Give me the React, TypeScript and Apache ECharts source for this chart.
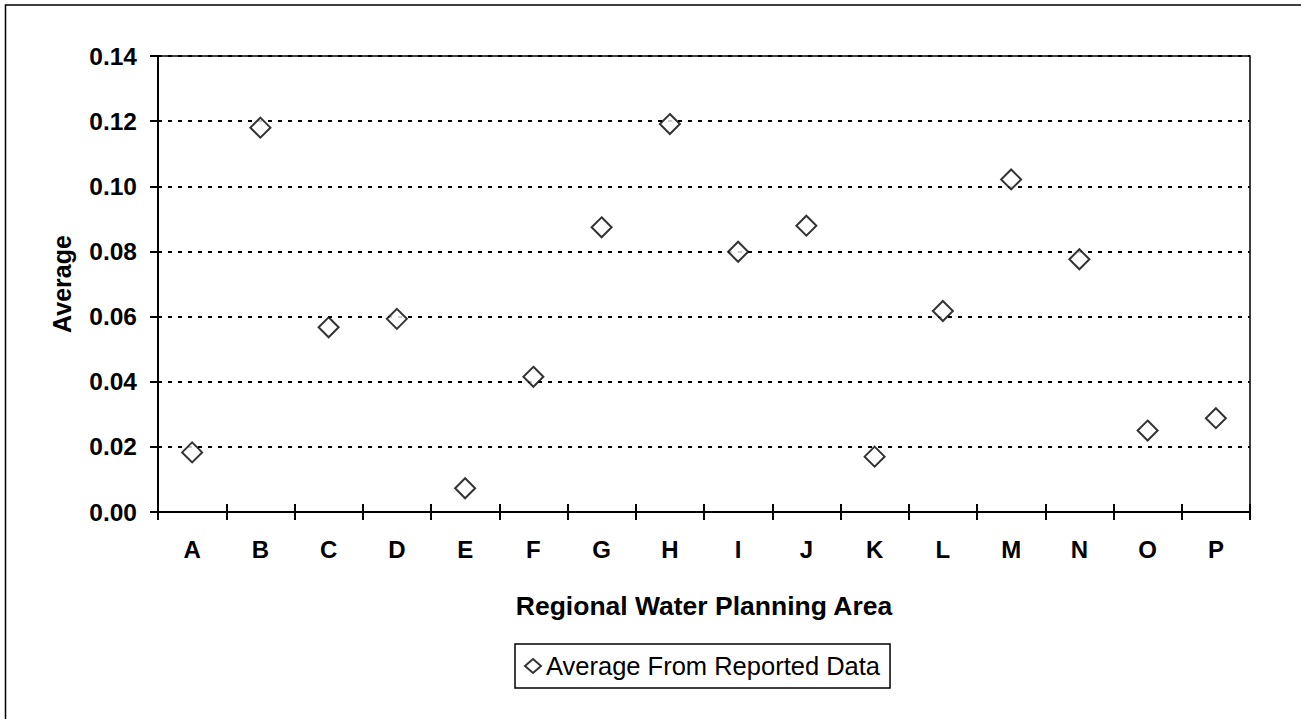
import React, { useEffect, useRef } from "react";
import * as echarts from "echarts";

const categories = ["A", "B", "C", "D", "E", "F", "G", "H", "I", "J", "K", "L", "M", "N", "O", "P"];
const averageValues = [0.0183, 0.118, 0.0567, 0.0593, 0.0073, 0.0415, 0.0874, 0.1191, 0.0799, 0.0879, 0.017, 0.0617, 0.1021, 0.0776, 0.025, 0.0288];
const seriesName = "Average From Reported Data";
const xTitle = "Regional Water Planning Area";
const yTitle = "Average";

const FONT = "'Liberation Sans', Arial, sans-serif";

export default function App() {
  const ref = useRef<HTMLDivElement>(null);
  useEffect(() => {
    document.body.style.margin = "0";
    const chart = echarts.init(ref.current!, null, { renderer: "svg" });
    chart.setOption({
      animation: false,
      backgroundColor: "#fff",
      textStyle: { fontFamily: FONT, color: "#000" },
      graphic: [
        {
          type: "rect",
          shape: { x: 5.5, y: 5, width: 1400, height: 900 },
          style: { fill: "none", stroke: "#000", lineWidth: 1.5 },
          silent: true,
        },
      ],
      grid: {
        left: 158,
        right: 51,
        top: 56,
        bottom: 207,
        show: true,
        borderColor: "#000",
        borderWidth: 1.5,
        backgroundColor: "transparent",
      },
      legend: {
        data: [{ name: seriesName, icon: "diamond" }],
        left: 515,
        top: 644,
        itemWidth: 16,
        itemHeight: 14,
        padding: [9, 10, 9, 9],
        borderColor: "#000",
        borderWidth: 1.5,
        textStyle: { fontFamily: FONT, fontSize: 25.5, color: "#000" },
      },
      xAxis: [
        {
          type: "category",
          data: categories,
          boundaryGap: true,
          position: "bottom",
          name: xTitle,
          nameLocation: "middle",
          nameGap: 80,
          nameTextStyle: { fontFamily: FONT, fontSize: 26.5, fontWeight: "bold", color: "#000" },
          axisLine: { show: true, lineStyle: { color: "#000", width: 2 } },
          axisTick: { show: true, alignWithLabel: false, length: 8, lineStyle: { color: "#000", width: 2 } },
          axisLabel: { fontFamily: FONT, fontSize: 24, fontWeight: "bold", color: "#000", margin: 25 },
          splitLine: { show: false },
        },
        {
          type: "category",
          data: categories,
          boundaryGap: true,
          position: "bottom",
          axisLine: { show: false },
          axisTick: { show: true, inside: true, alignWithLabel: false, length: 8, lineStyle: { color: "#000", width: 2 } },
          axisLabel: { show: false },
          splitLine: { show: false },
        },
      ],
      yAxis: [
        {
          type: "value",
          min: 0,
          max: 0.14,
          interval: 0.02,
          name: yTitle,
          nameLocation: "middle",
          nameGap: 84,
          nameRotate: 90,
          nameTextStyle: { fontFamily: FONT, fontSize: 25, fontWeight: "bold", color: "#000" },
          axisLine: { show: true, lineStyle: { color: "#000", width: 2 } },
          axisTick: { show: true, length: 8, lineStyle: { color: "#000", width: 2 } },
          axisLabel: {
            fontFamily: FONT,
            fontSize: 24.5,
            fontWeight: "bold",
            color: "#000",
            margin: 21,
            formatter: (v: number) => v.toFixed(2),
          },
          splitLine: { show: true, lineStyle: { color: "#000", width: 2, type: [4, 6] } },
        },
        {
          type: "value",
          min: 0,
          max: 0.14,
          interval: 0.02,
          position: "left",
          axisLine: { show: false },
          axisTick: { show: true, inside: true, length: 4, lineStyle: { color: "#000", width: 2 } },
          axisLabel: { show: false },
          splitLine: { show: false },
        },
      ],
      series: [
        {
          name: seriesName,
          type: "scatter",
          xAxisIndex: 0,
          yAxisIndex: 0,
          data: averageValues,
          symbol: "diamond",
          symbolSize: 20,
          itemStyle: { color: "#fff", borderColor: "#000", borderWidth: 2 },
          z: 5,
        },
      ],
    });
    return () => chart.dispose();
  }, []);
  return <div ref={ref} style={{ width: 1301, height: 719, overflow: "hidden" }} />;
}
